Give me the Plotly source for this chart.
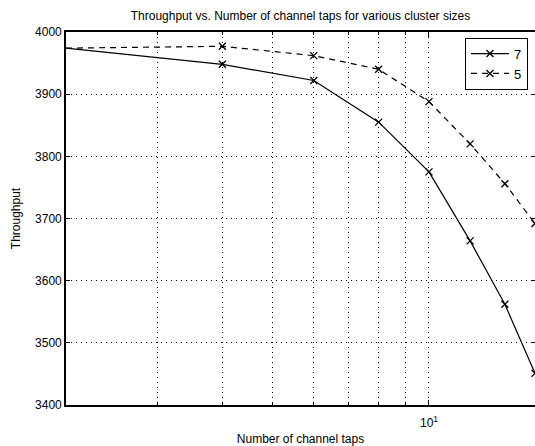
import plotly.graph_objects as go

taps = [2, 4, 6, 8, 10, 12, 14, 16]
thr_7 = [3974, 3948, 3922, 3855, 3775, 3664, 3562, 3451]
thr_5 = [3974, 3977, 3962, 3940, 3888, 3820, 3756, 3692]
ytick_vals = [3400, 3500, 3600, 3700, 3800, 3900, 4000]
xmajor_vals = [10]
xmajor_text = ["10<sup>1</sup>"]
xminor_vals = [3, 4, 5, 6, 7, 8, 9]

font = "Liberation Sans, Arial, Helvetica, sans-serif"

fig = go.Figure()
fig.add_trace(go.Scatter(
    x=taps, y=thr_7, name="7", mode="lines+markers",
    line=dict(color="black", width=1.2, dash="solid"),
    marker=dict(symbol="x-thin", size=7, line=dict(color="black", width=1.3)),
    cliponaxis=False,
))
fig.add_trace(go.Scatter(
    x=taps, y=thr_5, name="5", mode="lines+markers",
    line=dict(color="black", width=1.2, dash="6px,5px"),
    marker=dict(symbol="x-thin", size=7, line=dict(color="black", width=1.3)),
    cliponaxis=False,
))

fig.update_layout(
    width=535, height=446,
    margin=dict(l=66, r=0, t=32, b=41, autoexpand=False),
    paper_bgcolor="white", plot_bgcolor="white",
    font=dict(family=font, size=12, color="black"),
    title=dict(text="Throughput vs. Number of channel taps for various cluster sizes",
               x=(66 + 535) / 2 / 535, xanchor="center", y=1 - 16 / 446, yanchor="middle",
               font=dict(size=12)),
    showlegend=True,
    legend=dict(x=0.985, y=0.985, xanchor="right", yanchor="top",
                bgcolor="white", bordercolor="black", borderwidth=1,
                font=dict(size=13), tracegroupgap=0, itemwidth=38),
)
fig.update_xaxes(
    type="log", range=[0.30103, 1.20412], automargin=False,
    tickvals=xmajor_vals, ticktext=xmajor_text, ticklabelstandoff=6,
    showgrid=True, gridcolor="black", griddash="1px,4px", gridwidth=1,
    showline=True, linecolor="black", linewidth=1.6, mirror="ticks",
    ticks="inside", ticklen=5, tickcolor="black",
    minor=dict(tickvals=xminor_vals, showgrid=True, gridcolor="black",
               griddash="1px,4px", gridwidth=1, ticks="inside", ticklen=3,
               tickcolor="black"),
    title=dict(text="Number of channel taps", font=dict(size=12), standoff=8),
    zeroline=False,
)
fig.update_yaxes(
    range=[3400, 4000], tickvals=ytick_vals, automargin=False,
    showgrid=True, gridcolor="black", griddash="1px,4px", gridwidth=1,
    showline=True, linecolor="black", linewidth=1.6, mirror="ticks",
    ticks="inside", ticklen=4, tickcolor="black",
    title=dict(text="Throughput", font=dict(size=12), standoff=12),
    zeroline=False,
)

fig.write_html("out.html", config={"displayModeBar": False},
               post_script="document.body.style.margin='0';document.body.style.overflow='hidden';")
